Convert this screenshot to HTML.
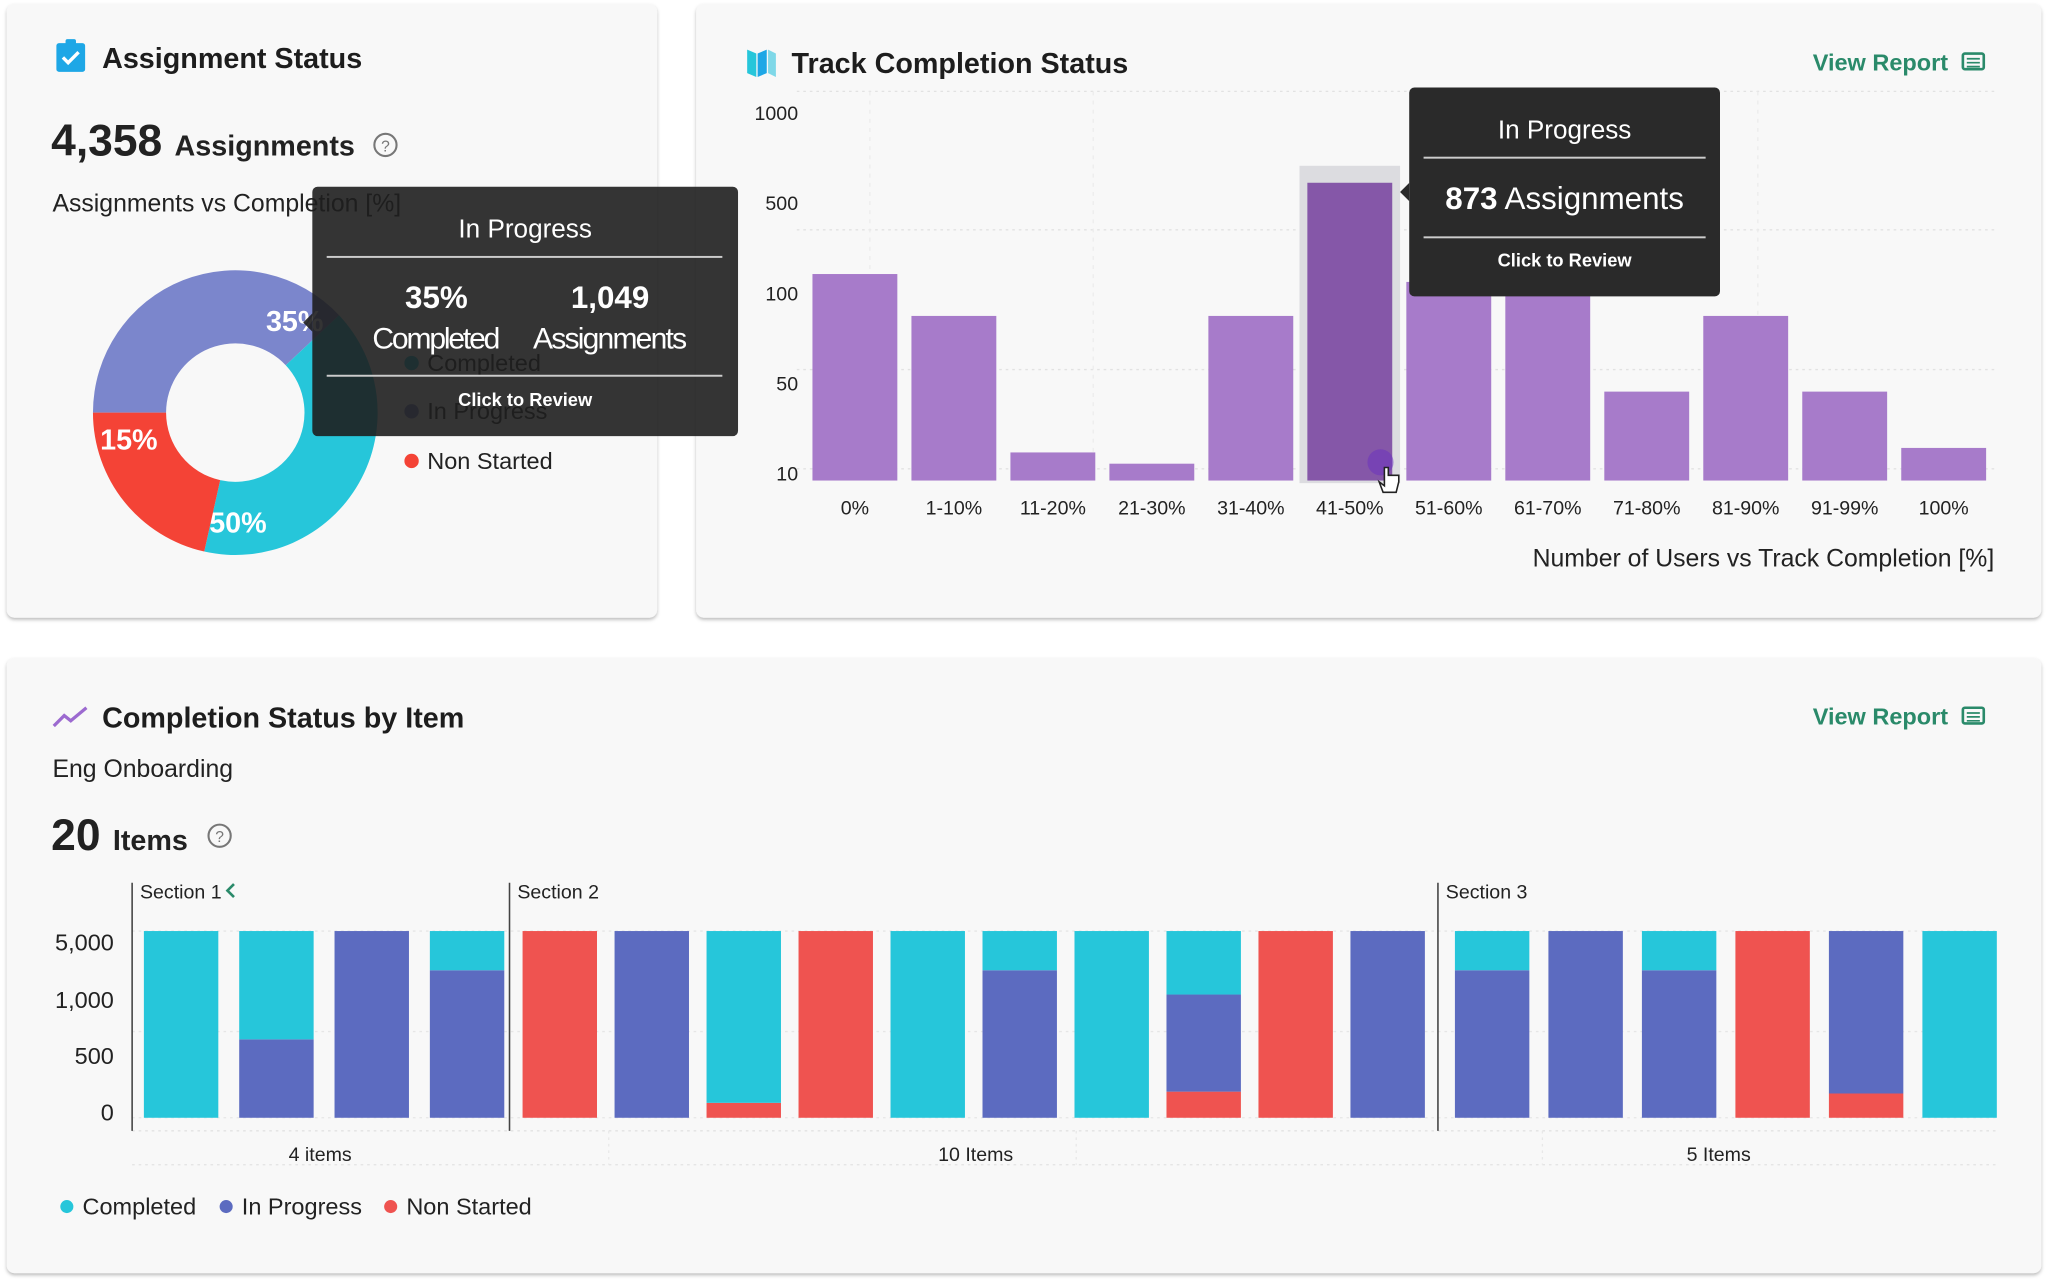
<!DOCTYPE html>
<html><head><meta charset="utf-8"><style>
html,body{margin:0;padding:0;background:#fff;width:2048px;height:1281px;overflow:hidden}
svg{display:block;font-family:"Liberation Sans",Arial,sans-serif}
</style></head><body>
<svg id="root" width="2048" height="1281" viewBox="0 0 1568 981" xmlns="http://www.w3.org/2000/svg">
<defs>
<filter id="sh" x="-5%" y="-5%" width="110%" height="110%"><feDropShadow dx="0" dy="1.5" stdDeviation="1.5" flood-color="#000" flood-opacity="0.28"/></filter>
</defs>
<rect width="1568" height="981" fill="#fff"/>
<rect x="5" y="3" width="498" height="470" rx="6" fill="#f8f8f8" filter="url(#sh)"/>
<rect x="533" y="3" width="1030" height="470" rx="6" fill="#f8f8f8" filter="url(#sh)"/>
<rect x="5" y="504" width="1558" height="471" rx="6" fill="#f8f8f8" filter="url(#sh)"/>

<g>
<rect x="43" y="33" width="22" height="22" rx="2" fill="#1ea7e6"/>
<rect x="50" y="30" width="8" height="5" rx="1.5" fill="#1ea7e6"/>
<path d="M48 44 l4 4 l8 -8" stroke="#fff" stroke-width="2.6" fill="none"/>
</g>
<text x="78" y="52" font-size="22" font-weight="bold" fill="#1d1d1d">Assignment Status</text>
<text x="39" y="119" font-size="34" font-weight="bold" fill="#222">4,358 <tspan font-size="22">Assignments</tspan></text>
<g><circle cx="295" cy="111" r="8.5" fill="none" stroke="#777" stroke-width="1.6"/><text x="295" y="116" font-size="12" text-anchor="middle" fill="#777">?</text></g>
<text x="40" y="162" font-size="19" fill="#222">Assignments vs Completion [%]</text>
<g id="donut"></g>
<g id="donutLegend"></g>

<g>
<path d="M572 38 l7 3 l0 18 l-7 -3z" fill="#26c6da"/><path d="M580 41 l7 -3 l0 18 l-7 3z" fill="#1ea7e6"/><path d="M588 38 l6 3 l0 18 l-6 -3z" fill="#7fd8e8"/>
</g>
<text x="606" y="56" font-size="22" font-weight="bold" fill="#1d1d1d">Track Completion Status</text>
<g>
<text x="1388" y="54" font-size="18" font-weight="bold" fill="#2a8a6a">View Report</text>
<rect x="1503" y="41" width="16" height="12" rx="1.5" fill="none" stroke="#2a8a6a" stroke-width="2"/><path d="M1506 45h10M1506 48h10M1506 51h10" stroke="#2a8a6a" stroke-width="1.3"/>
</g>
<g id="bars"></g>
<text x="1527" y="434" font-size="19" text-anchor="end" fill="#222">Number of Users vs Track Completion [%]</text>

<path d="M41 556 l8 -8 l5 4 l12 -10" stroke="#9c6ad0" stroke-width="2.5" fill="none"/>
<text x="78" y="557" font-size="22" font-weight="bold" fill="#1d1d1d">Completion Status by Item</text>
<g>
<text x="1388" y="555" font-size="18" font-weight="bold" fill="#2a8a6a">View Report</text>
<rect x="1503" y="542" width="16" height="12" rx="1.5" fill="none" stroke="#2a8a6a" stroke-width="2"/><path d="M1506 546h10M1506 549h10M1506 552h10" stroke="#2a8a6a" stroke-width="1.3"/>
</g>
<text x="40" y="595" font-size="19" font-weight="500" fill="#222">Eng Onboarding</text>
<text x="39" y="651" font-size="34" font-weight="bold" fill="#222">20 <tspan font-size="22">Items</tspan></text>
<g><circle cx="168" cy="640" r="8.5" fill="none" stroke="#777" stroke-width="1.6"/><text x="168" y="645" font-size="12" text-anchor="middle" fill="#777">?</text></g>
<g id="stack"></g>
<g>
<circle cx="51" cy="924" r="5" fill="#26c6da"/><text x="63" y="930" font-size="18" font-weight="500" fill="#222">Completed</text>
<circle cx="173" cy="924" r="5" fill="#5c6bc0"/><text x="185" y="930" font-size="18" font-weight="500" fill="#222">In Progress</text>
<circle cx="299" cy="924" r="5" fill="#ef5350"/><text x="311" y="930" font-size="18" font-weight="500" fill="#222">Non Started</text>
</g>

<g>
<rect x="239" y="143" width="326" height="191" rx="4" fill="#1e1e1e" fill-opacity="0.9"/>
<path d="M239 240 l-7 7 l7 7z" fill="#1e1e1e" fill-opacity="0.9"/>
<text x="402" y="182" font-size="20" fill="#fff" text-anchor="middle">In Progress</text>
<rect x="250" y="196" width="303" height="1.5" fill="#ccc"/>
<text x="334" y="236" font-size="24" font-weight="bold" fill="#fff" text-anchor="middle">35%</text>
<text x="334" y="267" font-size="23" fill="#fff" text-anchor="middle" textLength="98">Completed</text>
<text x="467" y="236" font-size="24" font-weight="bold" fill="#fff" text-anchor="middle">1,049</text>
<text x="467" y="267" font-size="23" fill="#fff" text-anchor="middle" textLength="118">Assignments</text>
<rect x="250" y="287" width="303" height="1.5" fill="#ccc"/>
<text x="402" y="311" font-size="14" font-weight="bold" fill="#fff" text-anchor="middle">Click to Review</text>
</g>

<g>
<rect x="1079" y="67" width="238" height="160" rx="4" fill="#2a2a2a"/>
<path d="M1079 140 l-7 7 l7 7z" fill="#2a2a2a"/>
<text x="1198" y="106" font-size="20" fill="#fff" text-anchor="middle">In Progress</text>
<rect x="1090" y="120" width="216" height="1.5" fill="#ccc"/>
<text x="1198" y="160" font-size="24" fill="#fff" text-anchor="middle"><tspan font-weight="bold">873</tspan> Assignments</text>
<rect x="1090" y="181" width="216" height="1.5" fill="#ccc"/>
<text x="1198" y="204" font-size="14" font-weight="bold" fill="#fff" text-anchor="middle">Click to Review</text>
</g>
<g>
<circle cx="1057" cy="354" r="10" fill="#6a30c0" fill-opacity="0.5"/>
<path d="M1060 358 v14 l-4 -3 l3 8 h10 l2 -8 v-5 h-8 v-6z" fill="#fff" stroke="#222" stroke-width="1.2"/>
</g>
</svg>
<script>
const NS="http://www.w3.org/2000/svg";
function mk(tag,attrs,parent,txt){const e=document.createElementNS(NS,tag);for(const k in attrs)e.setAttribute(k,attrs[k]);if(txt!==undefined)e.textContent=txt;parent.appendChild(e);return e;}

const donutCategories=["In Progress","Completed","Non Started"];
const donutValues=[38,40.5,21.5];
const donutLabels=["35%","50%","15%"];
const donutColors=["#7b86cc","#26c6da","#f44336"];
const trackCategories=["0%","1-10%","11-20%","21-30%","31-40%","41-50%","51-60%","61-70%","71-80%","81-90%","91-99%","100%"];
const trackValues=[182,87,19,14,87,609,147,212,46,87,46,21];
const trackTicks=[10,50,100,500,1000];
const trackHighlight=5;
const stackNonStarted=[0,0,0,0,100,0,8,100,0,0,0,14,100,0,0,0,0,100,13,0];
const stackInProgress=[0,42,100,79,0,100,0,0,0,79,0,52,0,100,79,100,79,0,87,0];
const stackCompleted=[100,58,0,21,0,0,92,0,100,21,100,34,0,0,21,0,21,0,0,100];
const stackSections=["Section 1","Section 2","Section 3"];
const sectionCounts=[4,10,6];
const sectionItemLabels=["4 items","10 Items","5 Items"];
const stackTicks=["5,000","1,000","500","0"];

(function(){
const g=document.getElementById('donut');const cx=180,cy=316,R=109,r=53;
const total=donutValues.reduce((a,b)=>a+b,0);let a0=-90;
const p=(a,rad)=>[cx+rad*Math.sin(a*Math.PI/180),cy-rad*Math.cos(a*Math.PI/180)];
donutValues.forEach((v,i)=>{
 const a1=a0+v/total*360;
 const [x0,y0]=p(a0,R),[x1,y1]=p(a1,R),[x2,y2]=p(a1,r),[x3,y3]=p(a0,r);const lg=(a1-a0)>180?1:0;
 const s=mk('path',{d:`M${x0} ${y0}A${R} ${R} 0 ${lg} 1 ${x1} ${y1}L${x2} ${y2}A${r} ${r} 0 ${lg} 0 ${x3} ${y3}Z`,fill:donutColors[i]},g);
 
 
 const [lx,ly]=p(a1-14,84);
 const t=mk('text',{x:lx,y:ly+8,'font-size':22,'font-weight':'bold',fill:'#fff','text-anchor':'middle'},g,donutLabels[i]);
 
 
 a0=a1;
});
const lg=document.getElementById('donutLegend');
const ly=[278,315,353];
donutCategories.forEach((c,i)=>{
 const idx=[1,0,2][i];
 const d=mk('circle',{cx:315,cy:ly[i],r:5.5,fill:donutColors[idx]},lg);
 
 
 const t=mk('text',{x:327,y:ly[i]+6,'font-size':18,'font-weight':'500',fill:'#222'},lg,donutCategories[idx]);
 
 
});
})();

(function(){
const g=document.getElementById('bars');
const tickY=i=>362-69*i, base=368;
function yOf(v){
 if(v<=trackTicks[0]){return tickY(0)+(trackTicks[0]-v)/(trackTicks[1]-trackTicks[0])*69;}
 for(let i=0;i<trackTicks.length-1;i++){if(v<=trackTicks[i+1]){return tickY(i)-(v-trackTicks[i])/(trackTicks[i+1]-trackTicks[i])*69;}}
 return tickY(trackTicks.length-1);
}
[70,176,283,359].forEach(y=>{const l=mk('line',{x1:610,x2:1527,y1:y,y2:y,stroke:'#e2e2e2','stroke-dasharray':'2 3'},g);});
[666,837,1091,1346].forEach(x=>{const l=mk('line',{x1:x,x2:x,y1:70,y2:368,stroke:'#ececec','stroke-dasharray':'3 4'},g);});
trackTicks.forEach((t,i)=>{const e=mk('text',{x:611,y:tickY(i)+6,'font-size':15,'text-anchor':'end',fill:'#222'},g,t);});
const x0=622,step=75.8,w=65;
trackCategories.forEach((c,i)=>{
 const x=x0+i*step;const y=Math.min(yOf(trackValues[i]),base);
 if(i===trackHighlight){const h=mk('rect',{x:x-6,y:y-13,width:w+12,height:base-y+15,fill:'#dcdce0'},g);}
 const b=mk('rect',{x:x,y:y,width:w,height:base-y,fill:i===trackHighlight?'#8557a8':'#a77bca'},g);
 
 
 const t=mk('text',{x:x+w/2,y:394,'font-size':15,'text-anchor':'middle',fill:'#222'},g,c);
 
 
});
})();

(function(){
const g=document.getElementById('stack');
const top=713,bot=856,H=bot-top,bw=57;
const sectStart=[101,390,1101],barOff=[9,10,13],barEnd=[386,1091,1529];
[713,790,856].forEach(y=>{const l=mk('line',{x1:101,x2:1530,y1:y,y2:y,stroke:'#e6e6e6','stroke-dasharray':'2 3'},g);});
[866,892].forEach(y=>{const l=mk('line',{x1:101,x2:1530,y1:y,y2:y,stroke:'#e2e2e2','stroke-dasharray':'2 3'},g);});
[466,824,1181].forEach(x=>{const l=mk('line',{x1:x,x2:x,y1:866,y2:892,stroke:'#e8e8e8','stroke-dasharray':'2 3'},g);});
const ty=[722,766,809,852];
stackTicks.forEach((t,i)=>{const e=mk('text',{x:87,y:ty[i]+6,'font-size':18,'text-anchor':'end',fill:'#222'},g,t);});
let k=0;
stackSections.forEach((s,si)=>{
 const x=sectStart[si];
 const l=mk('line',{x1:x,x2:x,y1:676,y2:866,stroke:'#444','stroke-width':1.2},g);
 
 
 const t=mk('text',{x:x+6,y:688,'font-size':15,fill:'#222'},g,s);
 
 
 const n=sectionCounts[si];const first=x+barOff[si];const st=(barEnd[si]-bw-first)/(n-1);
 for(let j=0;j<n;j++,k++){
  const bx=first+j*st;let y=bot;
  [[stackNonStarted,'#ef5350','non-started'],[stackInProgress,'#5c6bc0','in-progress'],[stackCompleted,'#26c6da','completed']].forEach(([arr,col,nm])=>{
   const h=arr[k]/100*H;if(h<=0)return;y-=h;
   const r=mk('rect',{x:bx,y:y,width:bw,height:h,fill:col},g);
   
   
  });
 }
 const lx=[245,747,1316][si];
 const il=mk('text',{x:lx,y:889,'font-size':15,'text-anchor':'middle',fill:'#222'},g,sectionItemLabels[si]);
 
 
});
const c=mk('path',{d:'M179 677 l-5 5 l5 5',stroke:'#2a8a6a','stroke-width':2,fill:'none'},g);


})();
</script>
</body></html>
